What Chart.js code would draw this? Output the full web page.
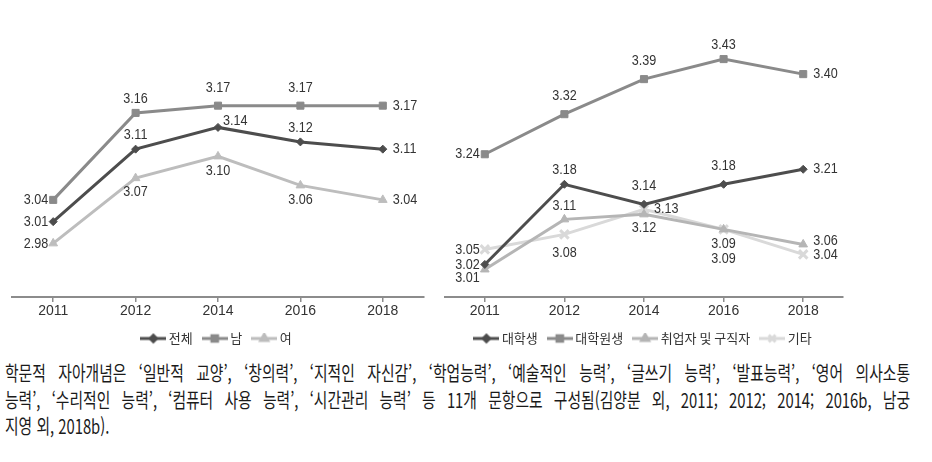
<!DOCTYPE html>
<html lang="ko">
<head>
<meta charset="utf-8">
<script src="https://cdn.jsdelivr.net/npm/chart.js@4.4.1/dist/chart.umd.min.js"></script>
<style>
    body { margin: 0; background: #fff; width: 932px; height: 462px; overflow: hidden; position: relative; }
    #izq { position: absolute; left: 0; top: 0; }
    #der { position: absolute; left: 436px; top: 0; }
    .nota {
        position: absolute; left: 5px; top: 360px; width: 1223px;
        transform: scaleX(0.74); transform-origin: 0 0;
        font-family: 'Noto Sans CJK KR', sans-serif; font-size: 20px; line-height: 26.5px; color: #1a1a1a;
    }
    .nota div { text-align: justify; text-align-last: justify; }
    .nota div.ultima { text-align-last: left; }
</style>
</head>
<body>
<canvas id="izq" width="436" height="355"></canvas>
<canvas id="der" width="416" height="355"></canvas>
<div class="nota">
    <div>학문적 자아개념은 ‘일반적 교양’, ‘창의력’, ‘지적인 자신감’, ‘학업능력’, ‘예술적인 능력’, ‘글쓰기 능력’, ‘발표능력’, ‘영어 의사소통</div>
    <div>능력’, ‘수리적인 능력’, ‘컴퓨터 사용 능력’, ‘시간관리 능력’ 등 11개 문항으로 구성됨(김양분 외, 2011; 2012; 2014; 2016b, 남궁</div>
    <div class="ultima">지영 외, 2018b).</div>
</div>
<script>
// datos
const anios = ['2011', '2012', '2014', '2016', '2018'];

const jeonche = [3.01, 3.11, 3.14, 3.12, 3.11];   // 전체
const nam = [3.04, 3.16, 3.17, 3.17, 3.17];       // 남
const yeo = [2.98, 3.07, 3.10, 3.06, 3.04];       // 여

const daehaksaeng = [3.02, 3.18, 3.14, 3.18, 3.21];     // 대학생
const daehakwonsaeng = [3.24, 3.32, 3.39, 3.43, 3.40];  // 대학원생
const chwieop = [3.01, 3.11, 3.12, 3.09, 3.06];         // 취업자 및 구직자
const gita = [3.05, 3.08, 3.13, 3.09, 3.04];            // 기타

// posicion de las etiquetas de valor respecto al punto
const OFFSETS = {
    a: [0, -14, 'center'],
    aa: [0, -18, 'center'],
    b: [0, 14, 'center'],
    b2: [0, 18, 'center'],
    bb: [0, 29, 'center'],
    l: [-5, 0, 'right'],
    lb: [-5, 8, 'right'],
    r: [10, 0, 'left'],
    ru: [10, -4, 'left'],
    ar: [5, -7, 'left']
};

const fuenteNum = "'Liberation Sans', Arial, sans-serif";
const fuenteKr = "'Noto Sans CJK KR', sans-serif";
const ESTRECHO = 0.84; // las cifras del original son estrechas

const etiquetasValor = {
    id: 'etiquetasValor',
    afterDatasetsDraw(chart) {
        const { ctx } = chart;
        chart.data.datasets.forEach((ds, i) => {
            const meta = chart.getDatasetMeta(i);
            meta.data.forEach((pt, j) => {
                const [dx, dy, align] = OFFSETS[ds.posEtiqueta[j]];
                ctx.save();
                ctx.font = `15px ${fuenteNum}`;
                ctx.fillStyle = '#333';
                ctx.textBaseline = 'middle';
                ctx.textAlign = align;
                ctx.translate(pt.x + dx, pt.y + dy);
                ctx.scale(ESTRECHO, 1);
                ctx.fillText(ds.data[j].toFixed(2), 0, 0);
                ctx.restore();
            });
        });
    }
};

// muestra de leyenda: linea con marcador en medio
const crearMuestra = (color, estilo, radio) => {
    const c = document.createElement('canvas');
    c.width = 26;
    c.height = 12;
    const g = c.getContext('2d');
    g.strokeStyle = color;
    g.fillStyle = color;
    g.lineWidth = 3;
    g.beginPath();
    g.moveTo(0, 6);
    g.lineTo(26, 6);
    g.stroke();
    Chart.helpers.drawPoint(g, { pointStyle: estilo, radius: radio, rotation: 0, borderWidth: 2 }, 13, 6);
    g.fill();
    return c;
};

const serie = (label, data, color, estilo, radio, posEtiqueta) => ({
    label,
    data,
    posEtiqueta,
    borderColor: color,
    backgroundColor: color,
    borderWidth: 3,
    tension: 0,
    pointStyle: estilo,
    pointRadius: radio,
    pointBorderWidth: estilo === 'crossRot' ? 3 : 1,
    pointBackgroundColor: color,
    pointBorderColor: color,
    clip: false,
    muestra: crearMuestra(color, estilo, radio * 0.8)
});

const crearGrafico = (id, datasets, yMin, yMax, padding) => {
    const ctx = document.getElementById(id).getContext('2d');
    new Chart(ctx, {
        type: 'line',
        data: { labels: anios, datasets },
        options: {
            responsive: false,
            animation: false,
            layout: { padding },
            plugins: {
                tooltip: { enabled: false },
                legend: {
                    position: 'bottom',
                    labels: {
                        usePointStyle: true,
                        pointStyleWidth: 18,
                        padding: 13,
                        color: '#333',
                        font: { family: fuenteKr, size: 13 },
                        generateLabels: (chart) => {
                            const items = Chart.defaults.plugins.legend.labels.generateLabels(chart);
                            items.forEach((it) => { it.pointStyle = chart.data.datasets[it.datasetIndex].muestra; });
                            return items;
                        }
                    }
                }
            },
            scales: {
                x: {
                    offset: true,
                    border: { display: true, color: '#8c8c8c', width: 2 },
                    grid: { display: true, offset: false, drawOnChartArea: false, drawTicks: true, tickLength: 5, color: '#8c8c8c', lineWidth: 1.5 },
                    ticks: { color: '#333', padding: 1, maxRotation: 0, font: { family: fuenteNum, size: 14 } },
                    afterFit: (s) => { s.height = 22; }
                },
                y: { display: false, min: yMin, max: yMax }
            }
        },
        plugins: [etiquetasValor]
    });
};

crearGrafico('izq', [
    serie('전체', jeonche, '#4d4d4d', 'rectRot', 4, ['l', 'a', 'ar', 'a', 'r']),
    serie('남', nam, '#8a8a8a', 'rect', 5, ['l', 'a', 'aa', 'aa', 'r']),
    serie('여', yeo, '#bdbdbd', 'triangle', 5, ['l', 'b', 'b', 'b', 'r'])
], 2.906, 3.302, { left: 12, right: 12, top: 10, bottom: 0 });

crearGrafico('der', [
    serie('대학생', daehaksaeng, '#4d4d4d', 'rectRot', 4, ['l', 'a', 'aa', 'aa', 'r']),
    serie('대학원생', daehakwonsaeng, '#8a8a8a', 'rect', 5, ['l', 'aa', 'aa', 'a', 'r']),
    serie('취업자 및 구직자', chwieop, '#b5b5b5', 'triangle', 5, ['lb', 'a', 'b', 'b', 'ru']),
    serie('기타', gita, '#d9d9d9', 'crossRot', 6, ['l', 'b2', 'r', 'bb', 'r'])
], 2.955, 3.528, { left: 2, right: 1, top: 10, bottom: 0 });
</script>
</body>
</html>
